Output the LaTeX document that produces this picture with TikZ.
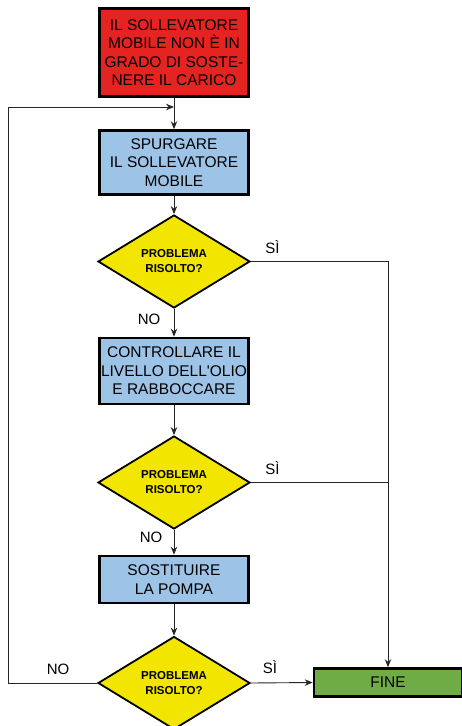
\documentclass[tikz,border=0pt]{standalone}
\usepackage{fontspec}
\setmainfont{Liberation Sans}
\usetikzlibrary{shapes.geometric,arrows.meta}
\definecolor{cred}{HTML}{E52421}
\definecolor{cblue}{HTML}{9DC3E6}
\definecolor{cyel}{HTML}{F2E500}
\definecolor{cgreen}{HTML}{6FAC46}
\tikzset{
  box/.style={draw=black,line width=2.6pt,minimum width=149pt,align=center,inner sep=0pt,
    font=\fontsize{15.5}{18.5}\selectfont},
  dec/.style={diamond,draw=black,line width=1.8pt,fill=cyel,minimum width=152pt,minimum height=93pt,
    inner sep=0pt,align=center,font=\fontsize{11.5}{15}\selectfont\bfseries},
  conn/.style={draw=black!85,line width=0.9pt},
  arr/.style={conn,-{Stealth[length=8pt,width=6.5pt]}},
  lab/.style={font=\fontsize{15}{17}\selectfont,inner sep=0pt}
}
\begin{document}
\begin{tikzpicture}[x=1pt,y=-1pt]
\useasboundingbox (0,0) rectangle (461,726);
\node[box,fill=cred,minimum height=88pt] (start) at (174,52.5) {IL SOLLEVATORE\\MOBILE NON È IN\\GRADO DI SOSTE-\\NERE IL CARICO};
\node[box,fill=cblue,minimum height=64pt] (b1) at (174,162.5) {SPURGARE\\IL SOLLEVATORE\\MOBILE};
\node[dec] (d1) at (174,261.5) {PROBLEMA\\RISOLTO?};
\node[box,fill=cblue,minimum height=66pt] (b2) at (174,371) {CONTROLLARE IL\\LIVELLO DELL\textquotesingle OLIO\\E RABBOCCARE};
\node[dec] (d2) at (174,482.5) {PROBLEMA\\RISOLTO?};
\node[box,fill=cblue,minimum height=47pt] (b3) at (174,579.5) {SOSTITUIRE\\LA POMPA};
\node[dec] (d3) at (174,683) {PROBLEMA\\RISOLTO?};
\node[box,fill=cgreen,minimum width=148pt,minimum height=28pt] (fine) at (388,682.5) {FINE};
\coordinate (j) at (174,107);
\coordinate (lt) at (8,107);
\coordinate (lb) at (8,683);
\coordinate (r1) at (388,261.5);
\coordinate (r2) at (388,482.5);
% connectors
\draw[arr] (start) -- (b1);
\draw[arr] (b1) -- (d1);
\draw[arr] (d1) -- (b2);
\draw[arr] (b2) -- (d2);
\draw[arr] (d2) -- (b3);
\draw[arr] (b3) -- (d3);
\draw[arr] (d3.west) -- (lb) -- (lt) -- (j);
\draw[arr] (d1.east) -- (r1) -- (fine.north);
\draw[conn] (d2.east) -- (r2);
\draw[arr] (d3.east) -- (fine.west);
% labels
\node[lab] (s1) at (272.5,247) {SÌ};
\node[lab] (s2) at (272.5,468) {SÌ};
\node[lab] (s3) at (270,667) {SÌ};
\node[lab] (n1) at (149,319) {NO};
\node[lab] (n2) at (151,537) {NO};
\node[lab] (n3) at (58,669) {NO};
\end{tikzpicture}
\end{document}
